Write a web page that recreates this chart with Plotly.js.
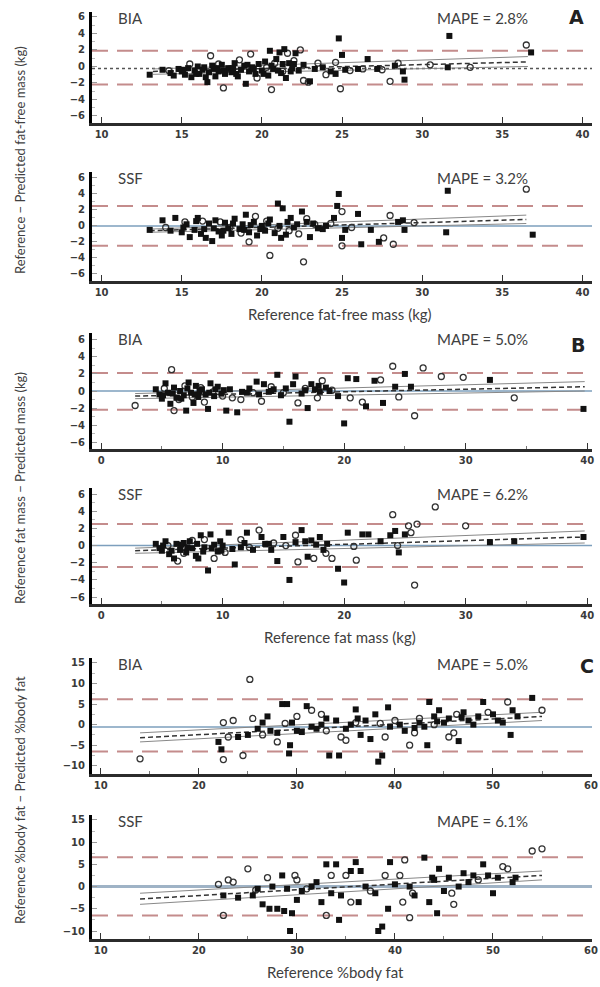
<!DOCTYPE html>
<html>
<head>
<meta charset="utf-8">
<script src="https://cdn.plot.ly/plotly-3.0.1.min.js"></script>
<style>html,body{margin:0;padding:0;background:#fff;}#chart{width:600px;height:987px;}</style>
</head>
<body>
<div id="chart"></div>
<script>
// ---------- Panel A: fat-free mass (kg) ----------
const ffmBiaFilledX = [13.0,13.8,14.3,14.5,14.8,15.0,15.2,15.4,15.6,15.8,16.0,16.1,16.3,16.5,16.6,16.7,16.9,17.0,17.1,17.3,17.5,17.7,17.9,18.1,18.3,18.5,18.7,18.9,19.0,19.2,19.4,19.6,19.8,20.0,20.2,20.4,20.5,20.7,20.9,21.1,21.2,21.4,21.5,21.7,21.9,22.1,22.3,22.6,23.0,23.3,23.8,24.3,24.6,24.8,25.0,25.2,26.0,26.6,27.2,28.3,28.8,28.9,31.7,31.6,36.8,15.1,15.9,16.4,17.2,17.6,18.2,18.4,19.1,19.5,20.1,20.6,21.0,21.3,21.8,22.0];
const ffmBiaFilledY = [-1.0,-0.4,-0.8,-1.1,-0.3,-0.6,-1.0,-0.2,-1.3,-0.5,0.0,-0.9,-0.4,-1.3,-1.9,-0.7,0.1,-0.3,-1.2,-0.6,0.2,-0.9,-0.2,-0.7,0.4,-1.2,-0.4,0.1,-2.1,-0.6,-0.1,-0.9,0.3,-0.5,0.6,-1.1,1.9,-0.3,0.9,1.7,-0.8,2.1,-1.4,0.4,-0.2,1.6,-0.5,0.2,-1.8,-0.3,-0.1,-0.6,-0.9,3.4,1.4,-0.4,-0.3,0.9,-0.3,0.1,-0.6,-1.6,3.7,-0.1,1.7,-0.4,-0.9,-0.1,-0.2,-0.5,-0.2,-0.9,0.2,-0.3,-0.9,0.1,-0.5,0.3,-0.6,0.3];
const ffmBiaOpenX = [14.2,15.5,16.8,17.3,17.6,18.0,18.6,19.3,19.7,20.3,20.6,20.8,21.3,21.6,22.0,22.4,22.6,22.9,23.5,24.0,24.6,24.9,25.5,26.3,27.5,28.0,28.5,30.5,33.0,36.5];
const ffmBiaOpenY = [-0.5,0.3,1.3,0.3,-2.6,-0.3,0.8,1.5,-1.4,-0.1,-2.8,0.4,-0.6,1.6,0.7,2.0,-1.7,-1.9,0.4,-1.0,0.5,-2.7,-0.5,-0.3,-0.4,-1.8,0.4,0.2,-0.1,2.6];
const ffmBiaRefLine = [-0.25];
const ffmBiaLoa = [1.9, -2.2];
const ffmBiaRegX = [13.2, 36.6];
const ffmBiaRegMid = [-0.6, 0.55];
const ffmBiaRegHi = [-0.3, 1.2];
const ffmBiaRegLo = [-0.95, 0.0];

const ffmSsfFilledX = [13.0,13.8,14.3,14.6,15.0,15.3,15.5,15.8,16.0,16.2,16.5,16.7,16.9,17.1,17.3,17.5,17.7,17.9,18.1,18.3,18.6,18.8,19.0,19.2,19.5,19.7,20.0,20.2,20.5,20.8,21.0,21.2,21.3,21.5,21.8,22.0,22.5,22.8,23.0,23.5,24.0,24.5,24.8,24.7,25.0,25.2,26.0,26.2,26.8,27.3,28.5,28.8,28.9,31.6,31.5,36.9,15.1,15.9,16.4,17.0,17.6,18.2,18.9,19.3,19.9,20.4,21.1,21.6,22.2,23.2,23.8];
const ffmSsfFilledY = [-0.5,0.7,-0.6,1.0,-0.8,0.2,-1.4,-0.5,1.0,-1.0,-1.5,0.3,-1.9,0.7,-0.7,-1.2,0.4,-0.3,-1.0,0.9,-0.4,0.2,1.4,-0.8,0.5,-1.2,0.0,-0.6,0.8,-0.9,2.8,-1.5,2.2,-1.1,1.0,-0.2,1.8,0.5,-1.4,-0.3,0.0,1.0,4.0,2.5,-1.5,-0.5,1.5,-2.3,-0.5,-2.0,0.5,0.7,-0.5,4.4,-0.8,-1.1,-0.2,0.6,-0.4,-0.3,-0.6,0.3,-0.5,0.1,-0.4,0.3,0.0,0.5,0.2,0.3,-0.4];
const ffmSsfOpenX = [14.0,15.2,16.3,17.4,18.0,18.7,19.2,19.6,20.3,20.5,21.0,21.7,22.3,22.6,22.8,23.3,24.3,25.0,25.0,25.6,27.6,28.0,28.2,29.5,36.5];
const ffmSsfOpenY = [-0.2,0.5,0.6,0.5,-0.2,-0.9,-2.0,1.2,0.6,-3.7,-0.3,-0.6,-1.0,-4.5,0.9,0.2,0.3,1.8,-2.5,-0.2,-1.5,1.3,-2.3,0.4,4.6];
const ffmSsfRefLine = [0];
const ffmSsfLoa = [2.5, -2.5];
const ffmSsfRegX = [13.0, 36.5];
const ffmSsfRegMid = [-0.6, 0.8];
const ffmSsfRegHi = [-0.4, 1.35];
const ffmSsfRegLo = [-0.8, 0.3];

// ---------- Panel B: fat mass (kg) ----------
const fmBiaFilledX = [4.5,4.8,5.0,5.3,5.5,5.7,6.0,6.2,6.5,6.8,7.0,7.2,7.4,7.6,7.8,8.0,8.3,8.6,8.8,9.0,9.3,9.6,9.9,10.3,10.6,11.2,11.6,12.2,12.8,13.0,13.4,13.8,14.2,14.5,14.8,15.2,15.5,15.8,16.0,16.5,17.0,17.3,17.6,18.0,18.5,19.5,20.0,20.3,21.0,21.8,22.5,23.2,24.2,25.0,25.5,32.0,39.7,5.1,5.9,6.6,7.1,7.7,8.1,8.9,9.4,10.1,12.0,14.0,16.8,17.9,18.8];
const fmBiaFilledY = [0.2,-0.4,-0.9,0.9,-0.2,-1.5,0.4,-0.8,0.0,-0.5,-2.3,1.0,-0.2,-1.4,0.6,-0.7,0.2,-0.4,-2.1,0.9,-0.6,0.5,-0.3,-2.3,0.2,-2.5,-0.1,0.3,1.1,-0.4,0.8,-0.1,0.2,1.9,-0.5,0.3,-3.6,0.8,1.7,-0.3,-2.0,0.8,0.2,-0.1,0.4,-0.6,-3.8,1.5,1.4,-1.8,1.2,-1.4,0.5,2.0,0.5,1.3,-2.1,-0.5,-0.3,-0.9,0.3,-0.4,0.0,-0.2,0.2,0.1,-0.2,0.0,0.1,0.6,0.0];
const fmBiaOpenX = [2.8,5.2,5.8,6.0,6.4,6.9,7.5,8.2,8.5,9.2,10.0,10.8,11.5,12.5,13.2,14.0,15.0,16.2,16.8,17.8,18.2,19.0,20.5,21.5,23.0,24.0,24.5,25.8,26.5,28.0,29.8,34.0];
const fmBiaOpenY = [-1.7,0.3,2.5,-2.3,-1.0,0.6,-0.7,0.4,-1.3,-0.1,-0.6,-0.8,-1.0,-0.2,-1.2,0.5,-0.2,-1.4,0.3,-0.8,1.2,0.1,-0.8,-1.3,1.3,2.9,-0.7,-2.9,2.7,1.7,1.6,-0.8];
const fmBiaRefLine = [0];
const fmBiaLoa = [2.1, -2.2];
const fmBiaRegX = [2.8, 39.8];
const fmBiaRegMid = [-0.6, 0.5];
const fmBiaRegHi = [-0.3, 1.1];
const fmBiaRegLo = [-0.9, 0.0];

const fmSsfFilledX = [4.5,4.8,5.0,5.3,5.6,6.0,6.2,6.5,6.8,7.0,7.3,7.5,7.8,8.0,8.2,8.5,8.8,9.0,9.3,9.6,9.8,10.0,10.5,10.8,11.0,11.5,12.0,12.5,13.2,13.5,14.0,14.5,15.0,15.5,16.0,16.5,17.0,17.3,18.0,18.3,19.5,20.0,20.3,21.5,22.0,23.0,23.8,24.2,24.5,25.0,32.0,34.0,39.7,5.1,5.8,6.6,7.1,7.9,8.4,9.1,9.9,11.8,13.8,16.8,17.7,18.6];
const fmSsfFilledY = [0.2,-0.3,-0.6,0.5,-1.0,-1.5,0.2,-0.5,0.3,-0.8,0.5,-0.3,-1.2,-1.5,1.2,-0.2,-2.9,1.3,0.1,-0.7,0.5,0.0,1.5,-0.4,-2.2,-0.2,1.5,-0.5,1.0,0.2,-0.5,-1.8,1.0,-4.0,0.4,1.8,-1.3,0.6,1.0,-0.5,-2.7,-4.3,1.5,1.3,1.3,0.5,1.2,1.7,-0.8,1.3,0.4,0.5,1.0,0.0,-0.6,0.1,-0.2,0.2,-0.7,-0.3,-0.6,0.3,0.2,0.5,0.1,0.2];
const fmSsfOpenX = [5.5,6.3,6.8,7.5,8.5,9.3,10.2,11.5,12.2,13.0,14.2,15.2,16.0,16.2,17.5,18.5,19.0,20.8,21.0,24.0,24.4,25.3,25.5,25.8,26.0,27.5,30.0];
const fmSsfOpenY = [0.0,-1.8,-0.9,0.6,0.7,-1.5,-0.8,0.7,-0.2,1.8,0.3,0.0,1.2,-1.9,-1.5,-0.9,-1.5,-0.1,-1.7,3.6,0.0,2.3,1.5,-4.6,2.5,4.5,2.3];
const fmSsfRefLine = [0];
const fmSsfLoa = [2.5, -2.5];
const fmSsfRegX = [2.8, 39.8];
const fmSsfRegMid = [-0.6, 1.0];
const fmSsfRegHi = [-0.3, 1.7];
const fmSsfRegLo = [-0.9, 0.3];

// ---------- Panel C: %body fat ----------
const pbfBiaFilledX = [22.0,22.3,24.0,25.0,26.0,26.5,27.0,27.3,28.0,28.5,29.0,29.2,29.3,29.5,30.0,30.5,31.0,31.5,32.0,32.5,33.0,33.3,34.0,34.3,35.0,35.5,36.0,36.2,36.5,37.0,37.5,38.0,38.3,38.7,39.3,39.5,40.5,41.0,42.0,42.5,43.0,43.3,43.5,44.0,44.3,44.5,45.0,45.5,46.5,46.8,47.0,47.5,48.0,48.5,49.0,50.0,50.5,51.0,51.8,52.0,52.5,54.0];
const pbfBiaFilledY = [-4.2,-6.0,-3.0,-2.5,-1.0,0.5,2.0,-1.5,-2.0,5.0,5.0,-7.0,-5.0,0.5,-1.5,-1.8,4.5,-0.5,-1.0,0.0,1.5,-7.5,1.0,-7.5,-1.0,0.0,3.7,1.5,-2.5,1.0,-3.5,2.5,-9.0,-7.5,4.2,-0.5,0.0,-1.5,-0.8,0.5,-0.5,-5.0,5.5,2.0,0.8,3.5,0.5,1.5,-4.0,1.8,3.0,1.0,0.0,2.0,5.5,2.5,1.0,0.5,-2.5,3.5,2.0,6.5];
const pbfBiaOpenX = [14.0,22.5,22.5,23.0,23.5,24.5,25.2,25.5,26.5,28.0,28.8,30.0,31.5,32.5,33.0,34.5,35.0,36.0,38.5,39.0,40.0,41.5,42.0,42.5,44.0,45.5,46.0,46.3,49.5,51.5,55.0];
const pbfBiaOpenY = [-8.3,-8.5,0.5,-3.0,1.0,-7.5,11.0,1.5,-2.5,-4.2,0.3,2.0,3.5,2.5,-1.5,-3.0,-3.8,0.5,0.3,-3.0,1.0,-5.0,-2.0,1.5,0.0,-3.0,-2.0,2.5,3.0,5.5,3.5];
const pbfBiaRefLine = [-0.6];
const pbfBiaLoa = [6.2, -6.5];
const pbfBiaRegX = [14.0, 55.0];
const pbfBiaRegMid = [-3.2, 2.0];
const pbfBiaRegHi = [-2.0, 3.0];
const pbfBiaRegLo = [-4.2, 1.0];

const pbfSsfFilledX = [22.5,24.0,25.5,26.0,26.5,27.2,27.5,28.0,28.5,28.7,29.0,29.3,29.5,30.0,30.5,31.5,32.0,32.5,33.0,33.5,34.0,34.3,34.5,35.5,36.0,36.3,36.5,37.0,38.0,38.3,38.7,39.3,39.5,40.0,41.5,42.0,43.0,43.5,43.8,44.0,44.3,44.5,45.0,45.5,46.5,47.0,47.5,48.0,49.0,49.5,50.0,50.5,52.0,52.3];
const pbfSsfFilledY = [-2.0,-2.5,-2.0,-0.5,-4.0,-5.0,0.0,-5.0,2.5,-5.5,-0.5,-10.0,-6.0,-3.0,-1.0,0.0,1.0,-3.5,5.0,-1.5,5.0,-7.5,-2.0,3.5,5.5,-3.5,3.5,0.0,-1.5,-10.0,-9.0,-5.0,5.5,0.5,0.0,-2.0,6.5,-3.5,2.0,1.5,-6.0,4.0,-1.0,2.0,0.0,3.0,1.0,2.5,5.0,2.5,-1.5,2.0,1.0,2.0];
const pbfSsfOpenX = [22.0,22.5,23.0,23.5,25.0,25.8,27.0,29.8,30.0,31.0,33.0,33.5,35.0,35.5,37.5,39.0,40.5,40.8,41.0,41.5,41.8,45.8,46.0,48.5,51.0,51.5,54.0,55.0];
const pbfSsfOpenY = [0.5,-6.5,1.5,1.0,4.0,-0.8,2.0,2.5,1.5,-0.5,-6.5,2.5,2.5,-3.5,-1.0,2.5,2.5,-3.5,6.0,-7.0,-1.5,-1.5,-4.0,1.5,4.5,4.0,8.0,8.5];
const pbfSsfRefLine = [0];
const pbfSsfLoa = [6.6, -6.5];
const pbfSsfRegX = [14.0, 55.0];
const pbfSsfRegMid = [-2.8, 2.5];
const pbfSsfRegHi = [-1.5, 3.5];
const pbfSsfRegLo = [-4.0, 1.5];

// Tick / text labels
const methodLabels = ['BIA','SSF','BIA','SSF','BIA','SSF'];
const mapeLabels = ['MAPE = 2.8%','MAPE = 3.2%','MAPE = 5.0%','MAPE = 6.2%','MAPE = 5.0%','MAPE = 6.1%'];
const panelLetters = ['A','B','C'];
const xTitles = ['Reference fat-free mass (kg)','Reference fat mass (kg)','Reference %body fat'];
const yTitles = ['Reference \u2212 Predicted fat-free mass (kg)','Reference fat mass \u2212 Predicted mass (kg)','Reference %body fat \u2212 Predicted %body fat'];

// ---------- layout geometry (pixels) ----------
const W = 600, H = 987;
const plotLeft = 92, plotRight = 592;
const panels = [
  {top: 12, bottom: 123, yr: [-6.85, 6.6], xr: [9.4, 40.6], xd: 5, xm: 5, yd: 2, ym: 1, fx: ffmBiaFilledX, fy: ffmBiaFilledY, ox: ffmBiaOpenX, oy: ffmBiaOpenY, ref: ffmBiaRefLine, refStyle: 'dot', loa: ffmBiaLoa, rx: ffmBiaRegX, rm: ffmBiaRegMid, rh: ffmBiaRegHi, rl: ffmBiaRegLo},
  {top: 172, bottom: 281, yr: [-6.9, 6.75], xr: [9.4, 40.6], xd: 5, xm: 5, yd: 2, ym: 1, fx: ffmSsfFilledX, fy: ffmSsfFilledY, ox: ffmSsfOpenX, oy: ffmSsfOpenY, ref: ffmSsfRefLine, refStyle: 'solid', loa: ffmSsfLoa, rx: ffmSsfRegX, rm: ffmSsfRegMid, rh: ffmSsfRegHi, rl: ffmSsfRegLo},
  {top: 333, bottom: 449, yr: [-6.8, 6.8], xr: [-0.75, 40.4], xd: 10, xm: 5, yd: 2, ym: 1, fx: fmBiaFilledX, fy: fmBiaFilledY, ox: fmBiaOpenX, oy: fmBiaOpenY, ref: fmBiaRefLine, refStyle: 'solid', loa: fmBiaLoa, rx: fmBiaRegX, rm: fmBiaRegMid, rh: fmBiaRegHi, rl: fmBiaRegLo},
  {top: 488, bottom: 604, yr: [-6.8, 6.7], xr: [-0.75, 40.4], xd: 10, xm: 5, yd: 2, ym: 1, fx: fmSsfFilledX, fy: fmSsfFilledY, ox: fmSsfOpenX, oy: fmSsfOpenY, ref: fmSsfRefLine, refStyle: 'solid', loa: fmSsfLoa, rx: fmSsfRegX, rm: fmSsfRegMid, rh: fmSsfRegHi, rl: fmSsfRegLo},
  {top: 658, bottom: 774, yr: [-12, 16.2], xr: [9.1, 60.1], xd: 10, xm: 5, yd: 5, ym: 2.5, fx: pbfBiaFilledX, fy: pbfBiaFilledY, ox: pbfBiaOpenX, oy: pbfBiaOpenY, ref: pbfBiaRefLine, refStyle: 'solid', loa: pbfBiaLoa, rx: pbfBiaRegX, rm: pbfBiaRegMid, rh: pbfBiaRegHi, rl: pbfBiaRegLo},
  {top: 815, bottom: 939, yr: [-11.8, 16.1], xr: [9.1, 60.1], xd: 10, xm: 5, yd: 5, ym: 2.5, fx: pbfSsfFilledX, fy: pbfSsfFilledY, ox: pbfSsfOpenX, oy: pbfSsfOpenY, ref: pbfSsfRefLine, refStyle: 'solid', loa: pbfSsfLoa, rx: pbfSsfRegX, rm: pbfSsfRegMid, rh: pbfSsfRegHi, rl: pbfSsfRegLo}
];

const tickFont = {family: 'DejaVu Sans', size: 10, color: '#3a3a3a', weight: 'bold'};
const textFont = {family: 'Lato, Open Sans, sans-serif', size: 15, color: '#404040'};

const traces = [];
const layout = {
  width: W, height: H,
  margin: {l: 0, r: 0, t: 0, b: 0},
  paper_bgcolor: '#ffffff', plot_bgcolor: '#ffffff',
  showlegend: false,
  shapes: [], annotations: []
};

panels.forEach((p, i) => {
  const n = i + 1;
  const xa = 'x' + (n === 1 ? '' : n), ya = 'y' + (n === 1 ? '' : n);
  const xKey = 'xaxis' + (n === 1 ? '' : n), yKey = 'yaxis' + (n === 1 ? '' : n);
  layout[xKey] = {
    domain: [plotLeft / W, plotRight / W], anchor: ya, range: p.xr,
    tick0: 0, dtick: p.xd, ticks: 'inside', ticklen: 6, tickwidth: 1, tickcolor: '#333',
    minor: {ticks: 'inside', ticklen: 3, dtick: p.xm, tickcolor: '#777'},
    showline: true, linewidth: 3, linecolor: '#2b2b2b', showgrid: false, zeroline: false,
    tickfont: tickFont, ticklabelstandoff: 0
  };
  layout[yKey] = {
    domain: [1 - p.bottom / H, 1 - p.top / H], anchor: xa, range: p.yr,
    tick0: 0, dtick: p.yd, ticks: 'inside', ticklen: 5, tickwidth: 1, tickcolor: '#999',
    minor: {ticks: 'inside', ticklen: 3, dtick: p.ym, tickcolor: '#bbb'},
    showline: true, linewidth: 3, linecolor: '#000', showgrid: false, zeroline: false,
    tickfont: tickFont, ticklabelstandoff: 2
  };
  layout.shapes.push({type: 'line', xref: xa + ' domain', yref: ya, x0: 0, x1: 1, y0: p.ref[0], y1: p.ref[0],
    line: p.refStyle === 'dot' ? {color: '#555', width: 1.5, dash: 'dot'} : {color: i === 5 ? '#9fb3c6' : '#7d9fbd', width: i === 5 ? 3 : 1.5}, layer: 'below'});
  p.loa.forEach(v => layout.shapes.push({type: 'line', xref: xa + ' domain', yref: ya, x0: 0, x1: 1, y0: v, y1: v,
    line: {color: '#c48c8c', width: 2, dash: '16px,9px'}, layer: 'below'}));
  traces.push({x: p.rx, y: p.rh, xaxis: xa, yaxis: ya, mode: 'lines', line: {color: '#888', width: 1}, hoverinfo: 'skip'});
  traces.push({x: p.rx, y: p.rl, xaxis: xa, yaxis: ya, mode: 'lines', line: {color: '#888', width: 1}, hoverinfo: 'skip'});
  traces.push({x: p.rx, y: p.rm, xaxis: xa, yaxis: ya, mode: 'lines', line: {color: '#333', width: 1.5, dash: '5px,3px'}, hoverinfo: 'skip'});
  traces.push({x: p.ox, y: p.oy, xaxis: xa, yaxis: ya, mode: 'markers', marker: {symbol: 'circle-open', size: 6, color: '#333', line: {width: 1.3}}});
  traces.push({x: p.fx, y: p.fy, xaxis: xa, yaxis: ya, mode: 'markers', marker: {symbol: 'square', size: 6, color: '#111'}});
  const ty = 1 - (p.top + 6) / H;
  layout.annotations.push({xref: 'paper', yref: 'paper', x: 130 / W, y: ty, text: methodLabels[i], showarrow: false, xanchor: 'center', yanchor: 'middle', font: textFont});
  layout.annotations.push({xref: 'paper', yref: 'paper', x: 482 / W, y: ty, text: mapeLabels[i], showarrow: false, xanchor: 'center', yanchor: 'middle', font: textFont});
});

[[576, 17], [578, 345], [587, 666]].forEach((pos, k) => {
  layout.annotations.push({xref: 'paper', yref: 'paper', x: pos[0] / W, y: 1 - pos[1] / H, text: '<b>' + panelLetters[k] + '</b>', showarrow: false, xanchor: 'center', yanchor: 'middle', font: {family: 'DejaVu Sans', size: 19, color: '#222'}});
});
[[340, 314], [340, 637], [335, 972]].forEach((pos, k) => {
  layout.annotations.push({xref: 'paper', yref: 'paper', x: pos[0] / W, y: 1 - pos[1] / H, text: xTitles[k], showarrow: false, xanchor: 'center', yanchor: 'middle', font: {family: 'Lato, Open Sans, sans-serif', size: 15, color: '#404040'}});
});
[[20, 160], [20, 488], [20, 800]].forEach((pos, k) => {
  layout.annotations.push({xref: 'paper', yref: 'paper', x: pos[0] / W, y: 1 - pos[1] / H, text: yTitles[k], showarrow: false, textangle: -90, xanchor: 'center', yanchor: 'middle', font: {family: 'Lato, Open Sans, sans-serif', size: 13, color: '#404040'}});
});

Plotly.newPlot('chart', traces, layout, {staticPlot: true, displayModeBar: false});
</script>
</body>
</html>
